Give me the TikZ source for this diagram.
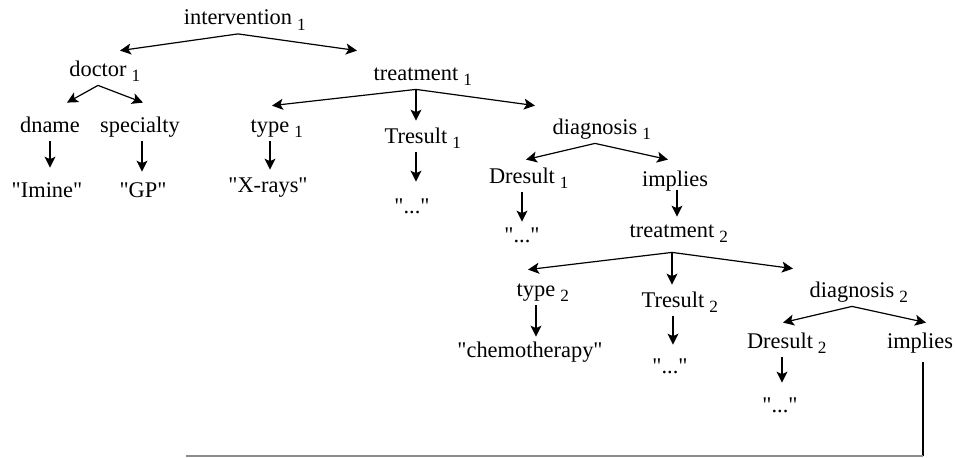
\documentclass[tikz,border=0pt]{standalone}
\usepackage{fontspec}
\setmainfont{Liberation Serif}
\usetikzlibrary{calc,arrows.meta}

% subscript hanging right of the word
\newcommand\nsub[1]{\rlap{\hspace{2.5pt}\raisebox{-2.8pt}{\fontsize{8.6}{9}\selectfont #1}}}
% straight quotes round a value
\newcommand\qv[1]{\textquotedbl#1\textquotedbl}

\begin{document}
\begin{tikzpicture}[
  x=0.5pt, y=-0.5pt,
  tag/.style={anchor=base, inner sep=2pt, text height=8pt, text depth=2.5pt,
              font=\fontsize{11.2}{13}\selectfont},
  arr/.style={-{Stealth[length=5.5pt, width=5.5pt, inset=1.3pt]}, line width=0.6pt},
  wire/.style={line width=0.6pt}
]
  \useasboundingbox (0,0) rectangle (955,457);

  % Tree nodes
  \node[tag] (iv)    at (238,24.5) {intervention\nsub{1}};
  \node[tag] (doc)   at (98,76)    {doctor\nsub{1}};
  \node[tag] (tr1)   at (416,80)   {treatment\nsub{1}};
  \node[tag] (dn)    at (50,132)   {dname};
  \node[tag] (sp)    at (140,132)  {specialty};
  \node[tag] (imine) at (47,197)   {\qv{Imine}};
  \node[tag] (gp)    at (143,197)  {\qv{GP}};
  \node[tag] (ty1)   at (270,132)  {type\nsub{1}};
  \node[tag] (xray)  at (268,192)  {\qv{X-rays}};
  \node[tag] (tres1) at (416,143)  {Tresult\nsub{1}};
  \node[tag] (val1)  at (412,213)  {\qv{...}};
  \node[tag] (dg1)   at (595,134)  {diagnosis\nsub{1}};
  \node[tag] (dr1)   at (522,183)  {Dresult\nsub{1}};
  \node[tag] (val2)  at (522,242)  {\qv{...}};
  \node[tag] (imp1)  at (675,186)  {implies};
  \node[tag] (tr2)   at (672,237)  {treatment\nsub{2}};
  \node[tag] (ty2)   at (536,296)  {type\nsub{2}};
  \node[tag] (chemo) at (530,357)  {\qv{chemotherapy}};
  \node[tag] (tres2) at (673,307)  {Tresult\nsub{2}};
  \node[tag] (val3)  at (670,373)  {\qv{...}};
  \node[tag] (dg2)   at (852,297)  {diagnosis\nsub{2}};
  \node[tag] (dr2)   at (780,348)  {Dresult\nsub{2}};
  \node[tag] (val4)  at (780,412)  {\qv{...}};
  \node[tag] (imp2)  at (920,348)  {implies};

  % Fan-out edges
  \draw[arr] (iv.south) -- ($(doc.north)+(22,-5)$);
  \draw[arr] (iv.south) -- ($(tr1.north)+(-59,-9)$);
  \draw[arr] (doc.south) -- ($(dn.north)+(17,-9)$);
  \draw[arr] (doc.south) -- ($(sp.north)+(3,-9)$);
  \draw[arr] (tr1.south) -- ($(ty1.north)+(2,-6)$);
  \draw[arr, shorten >=1pt] (tr1.south) -- (tr1.south |- tres1.north);
  \draw[arr] (tr1.south) -- ($(dg1.north)+(-60,-8)$);
  \draw[arr] (dg1.south) -- ($(dr1.north)+(4,-3)$);
  \draw[arr] (dg1.south) -- ($(imp1.north)+(-7,-6)$);
  \draw[arr] ([yshift=-3pt]tr2.south) -- ($(ty2.north)+(-8,-6)$);
  \draw[arr, shorten >=1pt] ([yshift=-3pt]tr2.south) -- (tr2.south |- tres2.north);
  \draw[arr] ([yshift=-3pt]tr2.south) -- ($(dg2.north)+(-59,-8)$);
  \draw[arr] (dg2.south) -- ($(dr2.north)+(3,-5)$);
  \draw[arr] (dg2.south) -- ($(imp2.north)+(6,-5)$);

  % Values
  \draw[arr, shorten >=4.5pt] (dn.south) -- (dn.south |- imine.north);
  \draw[arr, shorten >=2.5pt] ([xshift=1pt]sp.south) -- ([xshift=1pt]sp.south |- gp.north);
  \draw[arr, shorten >=1pt] (ty1.south) -- (ty1.south |- xray.north);
  \draw[arr, shorten >=5.5pt] (tres1.south) -- (tres1.south |- val1.north);
  \draw[arr] (dr1.south) -- (dr1.south |- val2.north);
  \draw[arr] ([xshift=1pt,yshift=2.5pt]imp1.south) -- ([xshift=1pt]imp1.south |- tr2.north);
  \draw[arr] (ty2.south) -- (ty2.south |- chemo.north);
  \draw[arr, shorten >=4pt] (tres2.south) -- (tres2.south |- val3.north);
  \draw[arr, shorten >=4.5pt] ([xshift=1pt]dr2.south) -- ([xshift=1pt]dr2.south |- val4.north);

  % Back link
  \coordinate (loopend) at (186,456);
  \draw[wire] ([xshift=1.5pt,yshift=-2.5pt]imp2.south) -- ([xshift=1.5pt]imp2.south |- loopend) coordinate (corner);
  \draw[wire, black!45] (corner) -- (loopend);
\end{tikzpicture}
\end{document}
